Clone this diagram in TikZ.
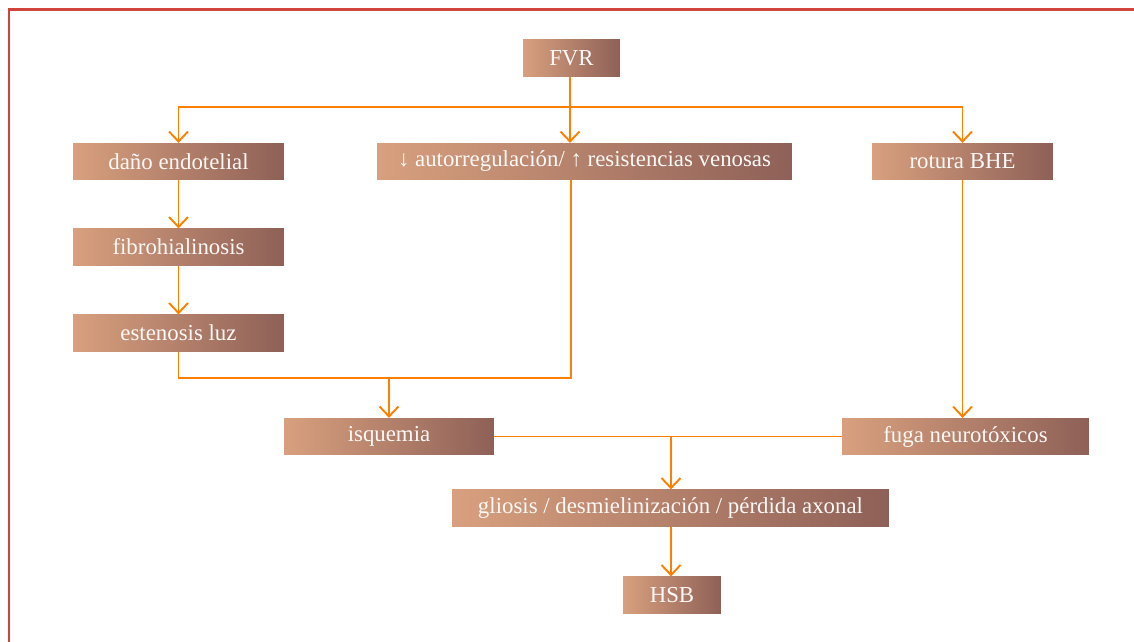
\documentclass[tikz,border=0pt]{standalone}
\usepackage{fontspec}
\setmainfont{Liberation Serif}
\usetikzlibrary{arrows.meta}
\definecolor{boxleft}{HTML}{D8A07E}
\definecolor{boxright}{HTML}{8E6057}
\definecolor{flow}{HTML}{FF8000}
\definecolor{frame}{HTML}{D0443C}

\begin{document}
\begin{tikzpicture}[x=0.02cm, y=-0.02cm,
        box/.style={left color=boxleft, right color=boxright, draw=none,
            text=white!94!boxleft, font=\fontsize{13}{15}\selectfont,
            minimum height=0.73cm, inner sep=0pt},
        link/.style={draw=flow, line width=1.1pt},
        arr/.style={link, -{Straight Barb[length=0.2cm, width=0.38cm, line width=1.1pt]}}]
        \useasboundingbox (0, 0) rectangle (1134, 642);
        % Frame
        \draw [frame, line width=0.06cm] (9, 642) -- (9, 10) -- (1134, 10);
        % Boxes
        \node [box, minimum width=1.94cm] (fvr) at (571.5, 58) {FVR};
        \node [box, minimum width=4.22cm] (dano) at (178.5, 161.5) {daño endotelial};
        \node [box, minimum width=8.30cm] (autor) at (584.5, 161.5) {↓ autorregulación/ ↑ resistencias venosas};
        \node [box, minimum width=3.62cm] (rotura) at (962.5, 161.5) {rotura BHE};
        \node [box, minimum width=4.22cm] (fibro) at (178.5, 247) {fibrohialinosis};
        \node [box, minimum width=4.22cm] (esten) at (178.5, 333) {estenosis luz};
        \node [box, minimum width=4.20cm] (isq) at (389, 436.5) {isquemia};
        \node [box, minimum width=4.94cm] (fuga) at (965.5, 436.5) {fuga neurotóxicos};
        \node [box, minimum width=8.74cm] (glio) at (670.5, 508) {gliosis / desmielinización / pérdida axonal};
        \node [box, minimum width=1.96cm] (hsb) at (672, 595) {HSB};
        % Junctions
        \coordinate (split) at (570, 107);
        \coordinate (merge) at (389, 378);
        \coordinate (back) at (571, 378);
        \coordinate (meet) at (671, 436.5);
        % Arrows
        \draw [link] (fvr.south -| split) -- (split);
        \draw [arr] (split) -| (dano.north);
        \draw [arr] (split) -- (split |- autor.north);
        \draw [arr] (split) -| (rotura.north);
        \draw [arr] (dano) -- (fibro);
        \draw [arr] (fibro) -- (esten);
        \draw [link] (esten.south) |- (back) -- (back |- autor.south);
        \draw [arr] (merge) -- (isq.north);
        \draw [arr] (rotura.south) -- (rotura.south |- fuga.north);
        \draw [link] (isq.east) -- (fuga.west);
        \draw [arr] (meet) -- (meet |- glio.north);
        \draw [arr] (glio.south -| meet) -- (meet |- hsb.north);
    \end{tikzpicture}
\end{document}
